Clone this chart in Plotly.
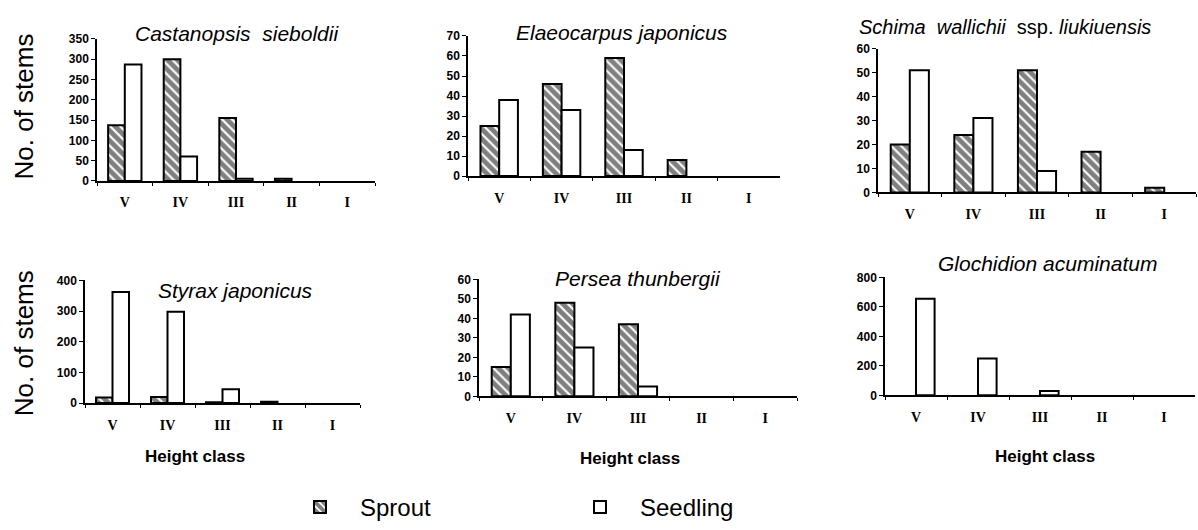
import plotly.graph_objects as go

W, H = 1198, 530

classes = ["V", "IV", "III", "II", "I"]

titles = [
    "<i>Castanopsis\u00a0\u00a0sieboldii</i>",
    "<i>Elaeocarpus japonicus</i>",
    "<i>Schima\u00a0\u00a0wallichii</i>\u00a0\u00a0ssp. <i>liukiuensis</i>",
    "<i>Styrax japonicus</i>",
    "<i>Persea thunbergii</i>",
    "<i>Glochidion acuminatum</i>",
]

sprout_castanopsis = [137, 300, 155, 5, 0]
seedling_castanopsis = [287, 60, 5, 0, 0]
sprout_elaeocarpus = [25, 46, 59, 8, 0]
seedling_elaeocarpus = [38, 33, 13, 0, 0]
sprout_schima = [20, 24, 51, 17, 2]
seedling_schima = [51, 31, 9, 0, 0]
sprout_styrax = [18, 20, 3, 4, 0]
seedling_styrax = [362, 298, 45, 0, 0]
sprout_persea = [15, 48, 37, 0, 0]
seedling_persea = [42, 25, 5, 0, 0]
sprout_glochidion = [0, 0, 0, 0, 0]
seedling_glochidion = [655, 250, 30, 0, 0]

sprouts = [sprout_castanopsis, sprout_elaeocarpus, sprout_schima,
           sprout_styrax, sprout_persea, sprout_glochidion]
seedlings = [seedling_castanopsis, seedling_elaeocarpus, seedling_schima,
             seedling_styrax, seedling_persea, seedling_glochidion]

y_max = [350, 70, 60, 400, 60, 800]
y_dtick = [50, 10, 10, 100, 10, 200]

# layout: pixel boxes (x0, x1, ybottom, ytop)
boxes = [
    (97, 375, 180, 33),
    (468, 780, 175, 30),
    (878, 1196, 192, 43),
    (85, 360, 410, 283),
    (479, 797, 403, 282),
    (885, 1195, 402, 280),
]
title_pos = [(237, 27), (622, 26), (1005, 21), (235, 293), (638, 281), (1047, 266)]


def outline(vals):
    return [2 if v > 0 else 0 for v in vals]


fig = go.Figure()

for i in range(6):
    ax = "" if i == 0 else str(i + 1)
    fig.add_trace(go.Bar(
        x=classes, y=sprouts[i], name="\u00a0\u00a0\u00a0Sprout",
        xaxis="x" + ax, yaxis="y" + ax,
        marker=dict(color="white",
                    line=dict(color="black", width=outline(sprouts[i])),
                    pattern=dict(shape="\\", fgcolor="black", bgcolor="white",
                                 size=7, solidity=0.7)),
        legendgroup="sprout", showlegend=(i == 0),
    ))
    fig.add_trace(go.Bar(
        x=classes, y=seedlings[i], name="\u00a0\u00a0\u00a0Seedling",
        xaxis="x" + ax, yaxis="y" + ax,
        marker=dict(color="white", line=dict(color="black", width=outline(seedlings[i]))),
        legendgroup="seedling", showlegend=(i == 0),
    ))

layout = dict(
    width=W, height=H,
    margin=dict(l=0, r=0, t=0, b=0),
    paper_bgcolor="white", plot_bgcolor="white",
    barmode="group", bargap=0.4, bargroupgap=0,
    showlegend=True,
    legend=dict(orientation="h", x=300 / W, y=1 - 518 / H,
                xanchor="left", yanchor="middle",
                entrywidth=235, entrywidthmode="pixels",
                font=dict(family="Liberation Sans, Arial", size=24, color="black"),
                bgcolor="rgba(0,0,0,0)", traceorder="normal"),
)

annotations = []
for i, (x0, x1, yb, yt) in enumerate(boxes):
    ax = "" if i == 0 else str(i + 1)
    layout["xaxis" + ax] = dict(
        domain=[x0 / W, x1 / W], anchor="y" + ax, type="category",
        showline=True, linecolor="black", linewidth=1.5,
        ticks="outside", tickson="boundaries", ticklen=3, tickcolor="black",
        tickfont=dict(family="Liberation Serif, Times New Roman", size=14, color="black",
                      weight="bold"),
        ticklabelstandoff=8,
        showgrid=False, zeroline=False, fixedrange=True,
    )
    layout["yaxis" + ax] = dict(
        domain=[1 - yb / H, 1 - yt / H], anchor="x" + ax,
        range=[0, y_max[i]], dtick=y_dtick[i],
        showline=True, linecolor="black", linewidth=1.5,
        ticks="outside", ticklen=4, tickcolor="black",
        tickfont=dict(family="Liberation Sans, Arial", size=12, color="black",
                      weight="bold"),
        showgrid=False, zeroline=False, fixedrange=True,
    )
    tx, ty = title_pos[i]
    annotations.append(dict(
        text=titles[i], x=tx / W, y=1 - ty / H, xref="paper", yref="paper",
        xanchor="center", yanchor="middle", showarrow=False,
        font=dict(family="Liberation Sans, Arial", size=21 if i != 2 else 20,
                  color="black"),
    ))

for (yx, yy) in [(24, 103), (24, 348)]:
    annotations.append(dict(
        text="No. of stems", x=yx / W, y=1 - yy / H, xref="paper", yref="paper",
        xanchor="center", yanchor="middle", showarrow=False, textangle=-90,
        font=dict(family="Liberation Sans, Arial", size=26, color="black"),
    ))

for (hx, hy) in [(195, 465), (630, 467), (1045, 465)]:
    annotations.append(dict(
        text="<b>Height class</b>", x=hx / W, y=1 - hy / H, xref="paper", yref="paper",
        xanchor="center", yanchor="middle", showarrow=False,
        font=dict(family="Liberation Sans, Arial", size=17, color="black"),
    ))

layout["annotations"] = annotations
fig.update_layout(**layout)

fig.write_html("out.html", config={"displayModeBar": False})
